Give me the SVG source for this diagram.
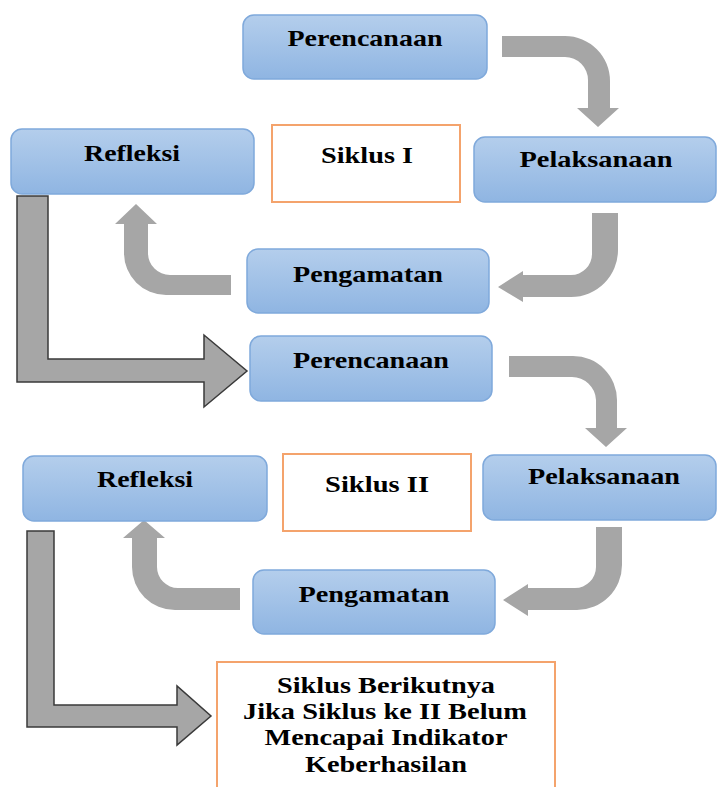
<svg xmlns="http://www.w3.org/2000/svg" width="717" height="787" viewBox="0 0 717 787">
<defs>
<linearGradient id="blue" x1="0" y1="0" x2="0" y2="1">
<stop offset="0" stop-color="#b4ceec"/>
<stop offset="1" stop-color="#8fb5e2"/>
</linearGradient>
<style>
.node{fill:url(#blue);stroke:#7fa9db;stroke-width:1.5}
.box{fill:#ffffff;stroke:#f4a36c;stroke-width:2}
.t{font-family:"Liberation Serif","Times New Roman",serif;font-weight:bold;font-size:23px;fill:#000;text-anchor:middle}
.arr{fill:#a6a6a6}
.big{fill:#a6a6a6;stroke:#3a3a3a;stroke-width:1.5;stroke-linejoin:miter}
</style>
</defs>
<rect width="717" height="787" fill="#ffffff"/>
<g id="connectors">
<path class="arr" d="M502,36 L565,36 A45,45 0 0 1 610,81 L610,108 L619,108 L598,127 L577,108 L588,108 L588,80 A23,23 0 0 0 565,57 L502,57 Z"/>
<path class="arr" d="M592,213 L618,213 L618,250 A47,47 0 0 1 571,297 L523,297 L523,302 L498,287 L523,271 L523,275 L571,275 A21,21 0 0 0 592,254 Z"/>
<path class="arr" d="M231,275 L231,295 L166,295 A42,42 0 0 1 124,253 L124,224 L115,224 L136,204 L157,224 L148,224 L148,253 A22,22 0 0 0 170,275 Z"/>
<path class="arr" d="M509,356 L573,356 A44,44 0 0 1 617,400 L617,428 L627,428 L606,447 L585,428 L596,428 L596,400 A24,24 0 0 0 572,377 L509,377 Z"/>
<path class="arr" d="M596,527 L622,527 L622,565 A45,45 0 0 1 577,610 L528,610 L528,616 L503,600 L528,584 L528,588 L575,588 A21,21 0 0 0 596,567 Z"/>
<path class="arr" d="M240,588 L240,610 L175,610 A43,43 0 0 1 132,567 L132,538 L123,538 L144,520 L165,538 L157,538 L157,567 A21,21 0 0 0 178,588 Z"/>
<path class="big" d="M17,196 L48,196 L48,359 L204,359 L204,335 L247,371 L204,407 L204,382 L17,382 Z"/>
<path class="big" d="M27,531 L54,531 L54,705 L177,705 L177,686 L211,716 L177,745 L177,727 L27,727 Z"/>
</g>
<g id="perencanaan1">
<rect class="node" x="243" y="15" width="244" height="64" rx="11"/>
<text class="t" x="365" y="46" textLength="155" lengthAdjust="spacingAndGlyphs">Perencanaan</text>
</g>
<g id="siklus1">
<rect class="box" x="272" y="125" width="188" height="77"/>
<text class="t" x="367" y="163" textLength="92" lengthAdjust="spacingAndGlyphs">Siklus I</text>
</g>
<g id="pelaksanaan1">
<rect class="node" x="474" y="137" width="242" height="65" rx="11"/>
<text class="t" x="596" y="167" textLength="153" lengthAdjust="spacingAndGlyphs">Pelaksanaan</text>
</g>
<g id="refleksi1">
<rect class="node" x="11" y="129" width="243" height="65" rx="11"/>
<text class="t" x="132" y="161" textLength="96" lengthAdjust="spacingAndGlyphs">Refleksi</text>
</g>
<g id="pengamatan1">
<rect class="node" x="247" y="249" width="242" height="64" rx="11"/>
<text class="t" x="368" y="282" textLength="150" lengthAdjust="spacingAndGlyphs">Pengamatan</text>
</g>
<g id="perencanaan2">
<rect class="node" x="250" y="336" width="242" height="65" rx="11"/>
<text class="t" x="371" y="368" textLength="156" lengthAdjust="spacingAndGlyphs">Perencanaan</text>
</g>
<g id="siklus2">
<rect class="box" x="283" y="454" width="188" height="77"/>
<text class="t" x="377" y="492" textLength="104" lengthAdjust="spacingAndGlyphs">Siklus II</text>
</g>
<g id="pelaksanaan2">
<rect class="node" x="483" y="455" width="233" height="65" rx="11"/>
<text class="t" x="604" y="484" textLength="152" lengthAdjust="spacingAndGlyphs">Pelaksanaan</text>
</g>
<g id="refleksi2">
<rect class="node" x="23" y="456" width="244" height="65" rx="11"/>
<text class="t" x="145" y="487" textLength="96" lengthAdjust="spacingAndGlyphs">Refleksi</text>
</g>
<g id="pengamatan2">
<rect class="node" x="253" y="570" width="242" height="64" rx="11"/>
<text class="t" x="374" y="602" textLength="151" lengthAdjust="spacingAndGlyphs">Pengamatan</text>
</g>
<g id="siklus-berikutnya">
<rect class="box" x="217" y="662" width="338" height="140"/>
<text class="t" x="386" y="693" textLength="218" lengthAdjust="spacingAndGlyphs">Siklus Berikutnya</text>
<text class="t" x="385" y="719" textLength="284" lengthAdjust="spacingAndGlyphs">Jika Siklus ke II Belum</text>
<text class="t" x="386" y="745" textLength="243" lengthAdjust="spacingAndGlyphs">Mencapai Indikator</text>
<text class="t" x="386" y="772" textLength="162" lengthAdjust="spacingAndGlyphs">Keberhasilan</text>
</g>
</svg>
